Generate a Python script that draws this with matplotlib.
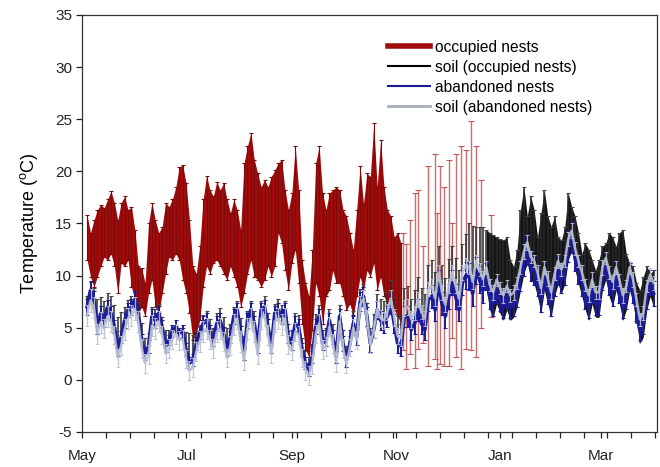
import numpy as np
import pandas as pd
import matplotlib
matplotlib.use("Agg")
import matplotlib.pyplot as plt
from matplotlib.lines import Line2D

plt.rcParams['font.family'] = ['Liberation Sans', 'DejaVu Sans']

# ---------------------------------------------------------------- data
# Two-day sampling grid for the logged series (first record 4 May)
series_start = "2010-05-04"
n_samples = 167

# Occupied nests: daily range (high / low), dense record May - early Nov
occupied_hi = [
    15.8, 14.1, 15.3, 16.3, 16.8, 16.5, 17.3, 18.1, 17.0, 15.3,
    17.0, 17.6, 16.3, 16.6, 14.4, 10.9, 10.7, 9.3, 15.0, 17.0,
    15.3, 14.1, 14.7, 17.0, 16.6, 17.3, 18.5, 20.4, 20.6, 18.9,
    15.3, 10.9, 10.2, 12.8, 17.3, 19.6, 18.2, 17.6, 19.0, 18.2,
    18.9, 17.3, 16.0, 17.3, 16.3, 14.4, 20.8, 22.4, 23.7, 21.1,
    19.8, 18.5, 19.2, 18.5, 19.5, 20.1,
    20.8, 21.1, 18.2, 16.3, 17.9, 22.4, 18.2, 11.5, 9.3, 8.0,
    12.5, 20.8, 22.4, 17.9, 16.3, 17.9, 18.2, 18.5, 18.2, 16.3,
    15.7, 14.1, 12.5, 16.3, 20.5, 16.9, 19.8, 19.5, 24.6, 18.5,
    23.0, 18.5, 16.3, 15.7, 13.7, 14.1, 13.1,
]
occupied_lo = [
    11.5, 9.9, 8.9, 9.9, 10.9, 11.8, 11.5, 12.1, 10.9, 8.3,
    11.2, 10.9, 11.5, 8.9, 7.7, 6.4, 7.0, 6.1, 8.3, 9.6,
    7.0, 6.4, 8.3, 10.2, 11.8, 11.5, 12.1, 11.5, 9.6, 8.3,
    6.4, 3.8, 4.5, 5.7, 8.9, 10.9, 10.2, 11.2, 11.5, 10.9,
    10.2, 9.6, 10.9, 9.9, 8.9, 7.0, 8.3, 10.2, 11.5, 9.9,
    9.6, 8.9, 9.6, 10.9, 9.9, 10.9,
    14.1, 13.1, 10.5, 8.6, 11.2, 12.5, 9.3, 5.4, 2.9, 2.2,
    4.8, 9.3, 8.0, 5.4, 8.0, 8.6, 10.5, 9.3, 9.3, 8.0,
    6.7, 7.3, 6.1, 8.0, 9.9, 8.6, 10.5, 9.9, 11.2, 8.6,
    9.9, 8.0, 7.3, 8.0, 6.7, 6.1, 5.4,
]

# Occupied nests after early November: few loggers, wide ranges
occupied_late_day = [188, 190, 192, 195, 197, 200, 203, 207, 208, 210,
                     212, 215, 217, 219, 222, 225, 228, 231, 234, 240]
occupied_late_lo = [2.9, 1.0, 2.5, 1.1, 3.0, 3.5, 1.3, 2.0, 1.0, 1.5,
                    1.3, 1.3, 4.0, 2.2, 1.0, 3.0, 2.9, 2.2, 5.0, 6.0]
occupied_late_hi = [14.1, 13.0, 15.3, 17.9, 18.2, 12.8, 20.5, 21.7, 16.0, 20.5,
                    18.5, 21.1, 15.0, 21.7, 22.4, 22.0, 24.8, 22.4, 19.2, 15.8]

# Soil beside occupied nests: range (high / low)
soil_occupied_hi = [
    8.0, 9.4, 8.8, 7.8, 7.9, 7.6, 8.3, 8.0, 7.2, 6.0,
    6.5, 7.0, 7.7, 8.0, 8.4, 7.5, 5.5, 4.0, 4.5, 7.0,
    6.8, 7.3, 6.0, 4.8, 4.8, 4.9, 5.2, 5.0, 5.0, 4.6,
    4.5, 4.3, 4.7, 5.3, 6.2, 6.6, 5.8, 5.0, 6.4, 6.9,
    6.0, 5.0, 5.4, 7.0, 7.6, 5.9, 4.2, 6.6, 7.6, 6.6,
    4.6, 7.6, 8.0, 6.4, 4.5, 7.3,
    7.8, 7.2, 7.6, 5.4, 4.8, 6.4, 6.2, 4.0, 2.8, 2.2,
    3.4, 6.3, 7.2, 4.8, 5.0, 6.8, 5.4, 3.5, 7.2, 4.8,
    3.2, 4.8, 6.6, 5.4, 8.7, 9.2, 7.4, 5.0, 6.3, 8.2,
    7.8, 7.6, 8.4, 9.6, 7.9, 6.2, 6.0, 8.8, 9.0, 7.8,
    8.6, 9.9, 8.8, 8.2, 11.0, 11.5, 10.3, 12.8, 11.0, 9.8,
    11.6, 12.8, 11.7, 10.5, 13.0, 14.0,
    15.0, 14.8, 14.7, 14.7, 14.7, 14.4, 14.1, 13.9, 13.7, 13.5,
    13.4, 13.7, 11.5, 10.9, 12.5, 16.3, 18.5, 15.7, 17.6, 16.3,
    13.7, 16.0, 18.2, 15.7, 14.7, 15.7, 13.7, 13.4, 14.7, 17.9,
    16.6, 15.7, 14.1, 12.1, 13.1, 12.5, 11.5, 10.5, 11.5, 12.8,
    13.1, 14.1, 13.7, 12.8, 14.1, 14.4, 12.1, 11.2, 10.9, 9.3,
    8.6, 9.9, 10.9, 10.2, 10.5,
]
soil_occupied_lo = [
    6.4, 8.0, 7.1, 4.5, 5.8, 5.1, 6.4, 5.8, 4.5, 2.3,
    3.5, 5.1, 6.1, 6.4, 7.1, 5.8, 3.2, 1.9, 2.6, 5.5,
    5.1, 5.8, 4.5, 2.6, 3.2, 4.1, 4.5, 3.9, 4.1, 2.3,
    1.0, 1.3, 2.9, 3.9, 4.8, 5.1, 4.1, 3.2, 4.8, 5.1,
    3.9, 2.3, 3.5, 5.5, 6.1, 3.9, 1.9, 5.1, 6.1, 4.8,
    2.6, 6.1, 6.4, 4.5, 2.6, 5.8,
    6.1, 5.5, 6.1, 3.5, 2.9, 4.8, 4.5, 2.3, 1.0, 0.4,
    1.6, 4.5, 5.5, 2.9, 3.2, 5.1, 3.5, 1.6, 5.5, 2.9,
    1.3, 2.9, 4.8, 3.5, 6.9, 7.4, 5.5, 2.9, 4.2, 6.1,
    5.1, 4.8, 5.5, 6.7, 4.8, 2.9, 2.6, 5.5, 5.5, 4.2,
    4.8, 6.1, 4.8, 4.2, 7.1, 7.4, 6.1, 8.7, 6.7, 5.5,
    7.4, 8.7, 7.4, 6.1, 8.7, 9.4,
    8.6, 7.0, 9.2, 8.3, 7.3, 8.6, 6.7, 6.0, 7.3, 6.4,
    5.7, 6.7, 5.7, 6.0, 7.0, 8.6, 10.2, 11.2, 9.6, 9.2,
    8.0, 6.4, 8.6, 7.3, 6.0, 8.0, 9.2, 8.3, 9.2, 11.5,
    12.4, 10.5, 9.2, 8.0, 6.7, 5.7, 7.3, 6.0, 6.0, 8.6,
    9.6, 8.0, 7.0, 8.6, 7.3, 5.7, 6.7, 8.6, 7.3, 5.4,
    3.5, 4.1, 6.7, 8.0, 7.0,
]

# Abandoned nests: mean and spread
abandoned_mean = [
    7.0, 8.6, 7.7, 5.1, 6.4, 5.7, 7.0, 6.4, 5.1, 2.9,
    4.1, 5.7, 6.7, 7.0, 7.7, 6.4, 3.8, 2.5, 3.2, 6.1,
    5.7, 6.4, 5.1, 3.2, 3.8, 4.7, 5.1, 4.5, 4.7, 2.9,
    1.6, 1.9, 3.5, 4.5, 5.4, 5.7, 4.7, 3.8, 5.4, 5.7,
    4.5, 2.9, 4.1, 6.1, 6.7, 4.5, 2.5, 5.7, 6.7, 5.4,
    3.2, 6.7, 7.0, 5.1, 3.2, 6.4,
    6.7, 6.1, 6.7, 4.1, 3.5, 5.4, 5.1, 2.9, 1.6, 1.0,
    2.2, 5.1, 6.1, 3.5, 3.8, 5.7, 4.1, 2.2, 6.1, 3.5,
    1.9, 3.5, 5.4, 4.1, 7.5, 8.0, 6.1, 3.5, 4.8, 6.7,
    5.7, 5.4, 6.1, 7.3, 5.4, 3.5, 3.2, 6.1, 6.1, 4.8,
    5.4, 6.7, 5.4, 4.8, 7.7, 8.0, 6.7, 9.3, 7.3, 6.1,
    8.0, 9.3, 8.0, 6.7, 9.3, 10.0,
    9.9, 8.3, 10.5, 9.6, 8.6, 9.9, 8.0, 7.3, 8.6, 7.7,
    7.0, 8.0, 7.0, 7.3, 8.3, 9.9, 11.5, 12.5, 10.9, 10.5,
    9.3, 7.7, 9.9, 8.6, 7.3, 9.3, 10.5, 9.6, 10.5, 12.8,
    13.7, 11.8, 10.5, 9.3, 8.0, 7.0, 8.6, 7.3, 7.3, 9.9,
    10.9, 9.3, 8.3, 9.9, 8.6, 7.0, 8.0, 9.9, 8.6, 6.7,
    4.8, 5.4, 8.0, 9.3, 8.3,
]
abandoned_err = [
    0.8, 0.9, 0.8, 0.7, 0.7, 0.6, 0.7, 0.7, 0.6, 0.6,
    0.6, 0.7, 0.7, 0.8, 0.8, 0.7, 0.6, 0.6, 0.6, 0.7,
    0.7, 0.7, 0.6, 0.5, 0.5, 0.6, 0.6, 0.5, 0.6, 0.6,
    0.6, 0.6, 0.6, 0.6, 0.7, 0.7, 0.6, 0.6, 0.7, 0.7,
    0.6, 0.6, 0.6, 0.7, 0.7, 0.7, 0.6, 0.7, 0.7, 0.7,
    0.6, 0.7, 0.7, 0.7, 0.6, 0.7,
    0.7, 0.7, 0.7, 0.6, 0.6, 0.7, 0.7, 0.6, 0.6, 0.6,
    0.6, 0.7, 0.7, 0.6, 0.6, 0.7, 0.7, 0.6, 0.7, 0.7,
    0.7, 0.7, 0.8, 0.8, 0.9, 0.9, 0.9, 0.8, 0.8, 0.9,
    0.9, 0.9, 1.0, 1.0, 0.9, 0.9, 0.9, 1.0, 1.0, 1.0,
    1.0, 1.1, 1.0, 1.0, 1.1, 1.1, 1.1, 1.2, 1.1, 1.1,
    1.2, 1.2, 1.2, 1.1, 1.2, 1.3,
    1.3, 1.2, 1.3, 1.3, 1.2, 1.3, 1.2, 1.2, 1.2, 1.1,
    1.1, 1.2, 1.1, 1.2, 1.3, 1.4, 1.5, 1.5, 1.4, 1.4,
    1.3, 1.2, 1.3, 1.3, 1.2, 1.3, 1.4, 1.3, 1.4, 1.5,
    1.5, 1.4, 1.3, 1.3, 1.2, 1.1, 1.2, 1.1, 1.1, 1.3,
    1.3, 1.2, 1.2, 1.3, 1.2, 1.1, 1.2, 1.3, 1.2, 1.1,
    1.0, 1.0, 1.2, 1.2, 1.2,
]

# Soil beside abandoned nests: mean and spread
soil_abandoned_mean = [
    6.2, 7.6, 6.9, 4.4, 5.5, 4.9, 6.1, 5.6, 4.3, 2.1,
    3.3, 4.8, 5.9, 6.2, 6.8, 5.6, 3.0, 1.6, 2.4, 5.2,
    4.9, 5.6, 4.3, 2.5, 3.0, 3.9, 4.4, 3.8, 3.9, 2.0,
    0.9, 1.2, 2.7, 3.7, 4.6, 4.9, 3.9, 3.0, 4.6, 4.9,
    3.7, 2.1, 3.3, 5.3, 5.9, 3.7, 1.8, 4.9, 5.9, 4.6,
    2.4, 5.9, 6.2, 4.3, 2.5, 5.6,
    5.9, 5.3, 5.9, 3.4, 2.8, 4.6, 4.3, 2.1, 0.9, 0.4,
    1.5, 4.4, 5.4, 2.9, 3.2, 5.1, 3.5, 1.7, 5.6, 3.0,
    1.5, 3.1, 5.0, 3.8, 7.2, 7.8, 5.9, 3.4, 4.8, 6.8,
    5.9, 5.7, 6.5, 7.8, 6.0, 4.2, 4.0, 6.9, 7.0, 5.8,
    6.4, 7.7, 6.5, 5.9, 8.7, 9.0, 7.8, 10.3, 8.4, 7.2,
    9.0, 10.3, 9.0, 7.8, 10.3, 11.0,
    10.8, 9.4, 11.4, 10.6, 9.7, 10.8, 9.1, 8.4, 9.6, 8.8,
    8.1, 9.0, 8.1, 8.4, 9.3, 10.8, 12.3, 13.2, 11.8, 11.4,
    10.3, 8.8, 10.8, 9.7, 8.4, 10.2, 11.4, 10.6, 11.4, 13.5,
    14.3, 12.6, 11.4, 10.3, 9.1, 8.1, 9.6, 8.4, 8.4, 10.8,
    11.7, 10.3, 9.4, 10.8, 9.6, 8.1, 9.0, 10.8, 9.6, 7.7,
    5.8, 6.4, 9.0, 10.1, 9.3,
]
soil_abandoned_err = [
    1.0, 1.1, 1.0, 1.0, 1.0, 0.9, 1.0, 1.0, 0.9, 0.9,
    0.9, 1.0, 1.0, 1.0, 1.1, 1.0, 0.9, 0.9, 0.9, 1.0,
    1.0, 1.0, 0.9, 0.9, 0.9, 0.9, 1.0, 0.9, 0.9, 0.9,
    0.9, 0.9, 0.9, 1.0, 1.0, 1.0, 0.9, 0.9, 1.0, 1.0,
    0.9, 0.9, 0.9, 1.0, 1.0, 1.0, 0.9, 1.0, 1.0, 1.0,
    0.9, 1.0, 1.0, 1.0, 0.9, 1.0,
    1.0, 1.0, 1.0, 0.9, 0.9, 0.9, 0.9, 0.9, 0.9, 0.9,
    0.9, 0.9, 0.9, 0.9, 0.9, 0.9, 0.9, 0.9, 0.9, 0.9,
    0.8, 0.8, 0.8, 0.8, 0.8, 0.8, 0.8, 0.8, 0.8, 0.8,
    0.8, 0.8, 0.8, 0.8, 0.8, 0.8, 0.8, 0.8, 0.8, 0.8,
    0.7, 0.7, 0.7, 0.7, 0.7, 0.7, 0.7, 0.7, 0.7, 0.7,
    0.7, 0.7, 0.7, 0.7, 0.7, 0.7,
    0.6, 0.7, 0.6, 0.6, 0.7, 0.6, 0.6, 0.7, 0.6, 0.6,
    0.7, 0.6, 0.6, 0.7, 0.6, 0.6, 0.7, 0.7, 0.6, 0.6,
    0.7, 0.6, 0.6, 0.7, 0.6, 0.6, 0.7, 0.6, 0.6, 0.7,
    0.7, 0.6, 0.6, 0.7, 0.6, 0.6, 0.7, 0.6, 0.6, 0.7,
    0.6, 0.6, 0.7, 0.6, 0.6, 0.7, 0.6, 0.6, 0.7, 0.6,
    0.6, 0.7, 0.6, 0.6, 0.7,
]

series_labels = ["occupied nests", "soil (occupied nests)",
                 "abandoned nests", "soil (abandoned nests)"]
month_ticks = ["May", "Jul", "Sep", "Nov", "Jan", "Mar"]
y_ticks = [-5, 0, 5, 10, 15, 20, 25, 30, 35]

# ---------------------------------------------------------------- styles
c_occ = "#a00c0c"
c_occ_dark = "#7d0a0a"
c_occ_late = "#c25555"
c_soil_occ = "#141414"
c_aband = "#1c1c98"
c_soil_aband = "#b9c0d2"

origin = pd.Timestamp("2010-05-01")
t = pd.date_range(series_start, periods=n_samples, freq="2D")
t_occ = t[:len(occupied_hi)]
t_late = origin + pd.to_timedelta(occupied_late_day, unit="D")
winter = t >= pd.Timestamp("2010-12-24")

fig = plt.figure(figsize=(6.6, 4.67), dpi=100)
ax = fig.add_axes([0.1242, 0.075, 0.8712, 0.893])

# occupied nests: band of daily ranges with capped bars
ax.fill_between(t_occ, occupied_lo, occupied_hi, color=c_occ, lw=0, zorder=1)
ax.vlines(t_occ, occupied_lo, occupied_hi, color=c_occ_dark, lw=0.8, zorder=1)
ax.plot(t_occ, occupied_hi, ls="none", marker="_", ms=3.5, mew=0.8, color=c_occ_dark, zorder=1)
ax.plot(t_occ, occupied_lo, ls="none", marker="_", ms=3.5, mew=0.8, color=c_occ_dark, zorder=1)
ax.vlines(t_late, occupied_late_lo, occupied_late_hi, color=c_occ_late, lw=1.0,
          alpha=0.85, zorder=1)
ax.plot(t_late, occupied_late_hi, ls="none", marker="_", ms=4, mew=0.8, color=c_occ_late, zorder=1)
ax.plot(t_late, occupied_late_lo, ls="none", marker="_", ms=4, mew=0.8, color=c_occ_late, zorder=1)

# soil beside occupied nests: solid band in winter, thin bars before
ax.fill_between(t, soil_occupied_lo, soil_occupied_hi, where=winter,
                color=c_soil_occ, lw=0, zorder=2)
ax.vlines(t, soil_occupied_lo, soil_occupied_hi, color="#2a2a2a", lw=1.1, zorder=2)
ax.plot(t, soil_occupied_hi, ls="none", marker="_", ms=3, mew=0.8, color="#444444", zorder=2)

# abandoned nests
ax.errorbar(t, abandoned_mean, yerr=abandoned_err, color=c_aband, lw=2.6,
            elinewidth=1.4, capsize=1.4, capthick=0.8, zorder=3)

# soil beside abandoned nests
ax.errorbar(t, soil_abandoned_mean, yerr=soil_abandoned_err, color=c_soil_aband, lw=1.8,
            elinewidth=0.9, capsize=1.2, capthick=0.7, alpha=0.9, zorder=4)

# ---------------------------------------------------------------- axes
ax.set_ylim(-5, 35)
ax.set_yticks(y_ticks)
ax.set_yticklabels([str(v) for v in y_ticks])
ax.set_xlim(origin, origin + pd.Timedelta(days=337))

major = pd.date_range(origin, periods=len(month_ticks), freq="2MS")
ax.set_xticks(major)
ax.set_xticklabels(month_ticks)
ax.set_xticks(pd.date_range(origin, periods=25, freq="14D"), minor=True)

ax.tick_params(axis="both", which="major", direction="out", length=4, width=0.9,
               labelsize=11, colors="#222222", pad=3)
ax.tick_params(axis="x", which="minor", direction="out", length=4, width=0.9, colors="#222222")
ax.tick_params(axis="x", which="major", pad=8)
for s in ax.spines.values():
    s.set_linewidth(0.9)
    s.set_color("#333333")

ax.set_ylabel("Temperature ($\\mathregular{^{o}}$C)", fontsize=13, labelpad=11)

handles = [
    Line2D([], [], color=c_occ, lw=4),
    Line2D([], [], color="#000000", lw=1.5),
    Line2D([], [], color=c_aband, lw=1.5),
    Line2D([], [], color="#a6adbf", lw=2),
]
ax.legend(handles, series_labels, loc="upper left", bbox_to_anchor=(0.522, 0.955),
          frameon=False, fontsize=11.2, handlelength=2.7, handletextpad=0.3,
          labelspacing=0.32, borderaxespad=0)

fig.savefig("out.png", dpi=100)
